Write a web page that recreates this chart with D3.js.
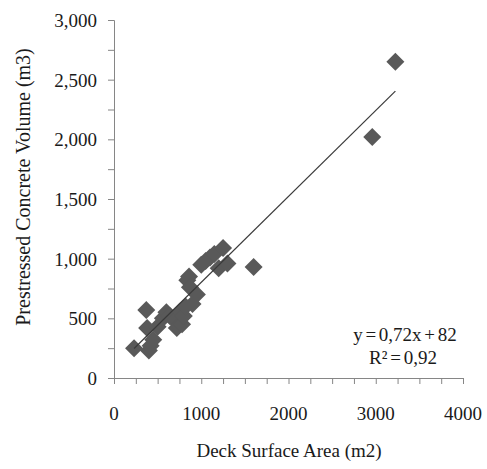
<!DOCTYPE html>
<html>
<head>
<meta charset="utf-8">
<script src="https://cdn.jsdelivr.net/npm/d3@7"></script>
<style>
  body { margin: 0; background: #fff; }
  svg { display: block; }
  text { font-family: "Liberation Serif", "Times New Roman", serif; fill: #1a1a1a; }
</style>
</head>
<body>
<svg id="chart" width="487" height="469"></svg>
<script>
// Data
const areas   = [230, 400, 420, 380, 370, 450, 500, 560, 600, 640, 700, 720, 760, 780, 800, 820, 840, 860, 870, 900, 950, 1000, 1050, 1100, 1150, 1200, 1250, 1300, 1600, 2960, 3225];
const volumes = [250, 230, 270, 420, 570, 320, 430, 500, 550, 520, 480, 420, 560, 450, 520, 600, 820, 850, 760, 620, 700, 950, 980, 1010, 1040, 920, 1090, 960, 930, 2020, 2650];
const xTicks = [0, 1000, 2000, 3000, 4000];
const yTicks = [0, 500, 1000, 1500, 2000, 2500, 3000];
const slope = 0.72, intercept = 82;
const eqLabel = "y = 0,72x + 82";
const r2Label = "R² = 0,92";
const xTitle = "Deck Surface Area (m2)";
const yTitle = "Prestressed Concrete Volume (m3)";

const svg = d3.select("#chart");
const x = d3.scaleLinear().domain([0, 4000]).range([114, 463]);
const y = d3.scaleLinear().domain([0, 3000]).range([378, 20]);

const axisColor = "#868686";
const fs = 19;

// X axis
const gx = svg.append("g").attr("transform", `translate(0,${y(0)})`);
gx.call(d3.axisBottom(x).tickValues(d3.range(0, 4001, 250)).tickSize(6).tickFormat(""));
gx.select(".domain").attr("stroke", axisColor);
gx.selectAll(".tick line").attr("stroke", axisColor);
svg.append("g").selectAll("text").data(xTicks).join("text")
  .attr("x", d => x(d)).attr("y", 420)
  .attr("text-anchor", "middle").attr("font-size", fs).text(d => d);

// Y axis
const gy = svg.append("g").attr("transform", `translate(${x(0)},0)`);
gy.call(d3.axisLeft(y).tickValues(d3.range(0, 3001, 250)).tickSize(6).tickFormat(""));
gy.select(".domain").attr("stroke", axisColor);
gy.selectAll(".tick line").attr("stroke", axisColor);
svg.append("g").selectAll("text").data(yTicks).join("text")
  .attr("x", 97).attr("y", d => y(d) + 7)
  .attr("text-anchor", "end").attr("font-size", fs).text(d => d3.format(",")(d));

// Points
const diamond = d3.symbol().type(d3.symbolSquare).size(162);
svg.append("g").selectAll("path").data(areas.map((a, i) => [a, volumes[i]])).join("path")
  .attr("d", diamond)
  .attr("transform", d => `translate(${x(d[0])},${y(d[1])}) rotate(45)`)
  .attr("fill", "#595959");

// Trendline
const x0 = d3.min(areas), x1 = d3.max(areas);
svg.append("line")
  .attr("x1", x(x0)).attr("y1", y(slope * x0 + intercept))
  .attr("x2", x(x1)).attr("y2", y(slope * x1 + intercept))
  .attr("stroke", "#3a3a3a").attr("stroke-width", 1.2);

// Equation
svg.append("text").attr("x", 405).attr("y", 341).attr("text-anchor", "middle")
  .attr("font-size", fs).attr("word-spacing", -2).text(eqLabel);
svg.append("text").attr("x", 403).attr("y", 364).attr("text-anchor", "middle")
  .attr("font-size", fs).attr("word-spacing", -2).text(r2Label);

// Axis titles
svg.append("text").attr("x", 289).attr("y", 457).attr("text-anchor", "middle")
  .attr("font-size", fs).text(xTitle);
svg.append("text").attr("transform", "translate(30,187) rotate(-90)")
  .attr("text-anchor", "middle").attr("font-size", 20).text(yTitle);
</script>
</body>
</html>
